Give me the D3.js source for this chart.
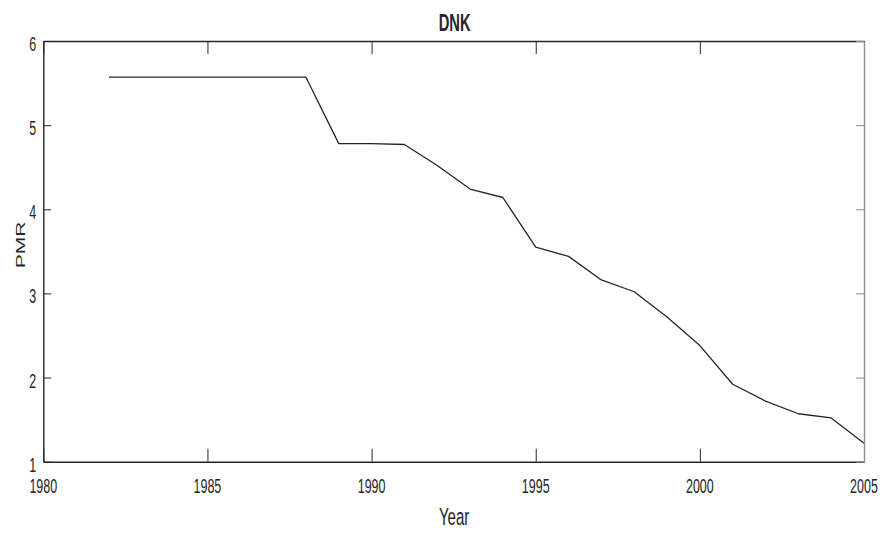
<!DOCTYPE html>
<html>
<head>
<meta charset="utf-8">
<script src="https://cdn.jsdelivr.net/npm/d3@7"></script>
<style>
  html, body { margin: 0; padding: 0; background: #fff; }
  svg { display: block; }
  text { font-family: "Liberation Sans", Arial, Helvetica, sans-serif; fill: #262626; }
</style>
</head>
<body>
<svg id="chart" width="883" height="536"></svg>
<script>
// PMR index for Denmark, one value per year
const years = [1982, 1983, 1984, 1985, 1986, 1987, 1988, 1989, 1990, 1991, 1992, 1993,
               1994, 1995, 1996, 1997, 1998, 1999, 2000, 2001, 2002, 2003, 2004, 2005];
const pmr   = [5.57, 5.57, 5.57, 5.57, 5.57, 5.57, 5.57, 4.78, 4.78, 4.77, 4.52, 4.24,
               4.14, 3.55, 3.44, 3.16, 3.02, 2.72, 2.38, 1.92, 1.72, 1.57, 1.52, 1.22];
const xTicks = [1980, 1985, 1990, 1995, 2000, 2005];
const yTicks = [1, 2, 3, 4, 5, 6];
const title = "DNK";
const xLabel = "Year";
const yLabel = "PMR";

const svg = d3.select("#chart");
const box = { left: 43.3, right: 864, top: 41, bottom: 461.7 };
const ink = "#262626";
const squeeze = 0.64; // narrow glyph proportions

const x = d3.scaleLinear().domain([1980, 2005]).range([box.left, box.right]);
const y = d3.scaleLinear().domain([1, 6]).range([box.bottom, box.top]);

// data line
const line = d3.line().x((d, i) => x(years[i])).y(d => y(d));
svg.append("path")
  .datum(pmr)
  .attr("d", line)
  .attr("fill", "none")
  .attr("stroke", ink)
  .attr("stroke-width", 1.3)
  .attr("stroke-linejoin", "round");

// box axes with inward ticks on all four sides
function styleAxis(g, color) {
  g.selectAll("path").attr("stroke", color).attr("stroke-width", 1.4);
  g.selectAll("line").attr("stroke", color).attr("stroke-width", 1);
  g.selectAll("text").remove();
}
svg.append("g").attr("transform", `translate(0,${box.bottom})`)
  .call(d3.axisBottom(x).tickValues(xTicks).tickSizeInner(-13).tickSizeOuter(0).tickFormat(""))
  .call(g => styleAxis(g, ink));
svg.append("g").attr("transform", `translate(0,${box.top})`)
  .call(d3.axisTop(x).tickValues(xTicks).tickSizeInner(-13).tickSizeOuter(0).tickFormat(""))
  .call(g => styleAxis(g, ink));
svg.append("g").attr("transform", `translate(${box.left},0)`)
  .call(d3.axisLeft(y).tickValues(yTicks).tickSizeInner(-8).tickSizeOuter(0).tickFormat(""))
  .call(g => styleAxis(g, ink));
svg.append("g").attr("transform", `translate(${box.right},0)`)
  .call(d3.axisRight(y).tickValues(yTicks).tickSizeInner(-8).tickSizeOuter(0).tickFormat(""))
  .call(g => styleAxis(g, "#8c8c8c"));

// tick labels
svg.append("g").selectAll("text")
  .data(xTicks)
  .join("text")
  .attr("transform", d => `translate(${x(d)},${box.bottom + 31.5}) scale(${squeeze},1)`)
  .attr("text-anchor", "middle")
  .attr("font-size", 19.5)
  .text(d => d);
svg.append("g").selectAll("text")
  .data(yTicks)
  .join("text")
  .attr("transform", d => `translate(${box.left - 7},${y(d) + 10}) scale(${squeeze},1)`)
  .attr("text-anchor", "end")
  .attr("font-size", 19.5)
  .text(d => d);

// title and axis labels
svg.append("text")
  .attr("transform", `translate(${(box.left + box.right) / 2 + 1},30.5) scale(${squeeze},1)`)
  .attr("text-anchor", "middle")
  .attr("font-size", 23)
  .attr("font-weight", "bold")
  .attr("fill", "#000")
  .text(title);
svg.append("text")
  .attr("transform", `translate(${(box.left + box.right) / 2 + 0.5},525) scale(${squeeze},1)`)
  .attr("text-anchor", "middle")
  .attr("font-size", 23.5)
  .text(xLabel);
svg.append("text")
  .attr("transform", `translate(25,245) scale(${squeeze},1) rotate(-90)`)
  .attr("text-anchor", "middle")
  .attr("font-size", 21)
  .text(yLabel);
</script>
</body>
</html>
